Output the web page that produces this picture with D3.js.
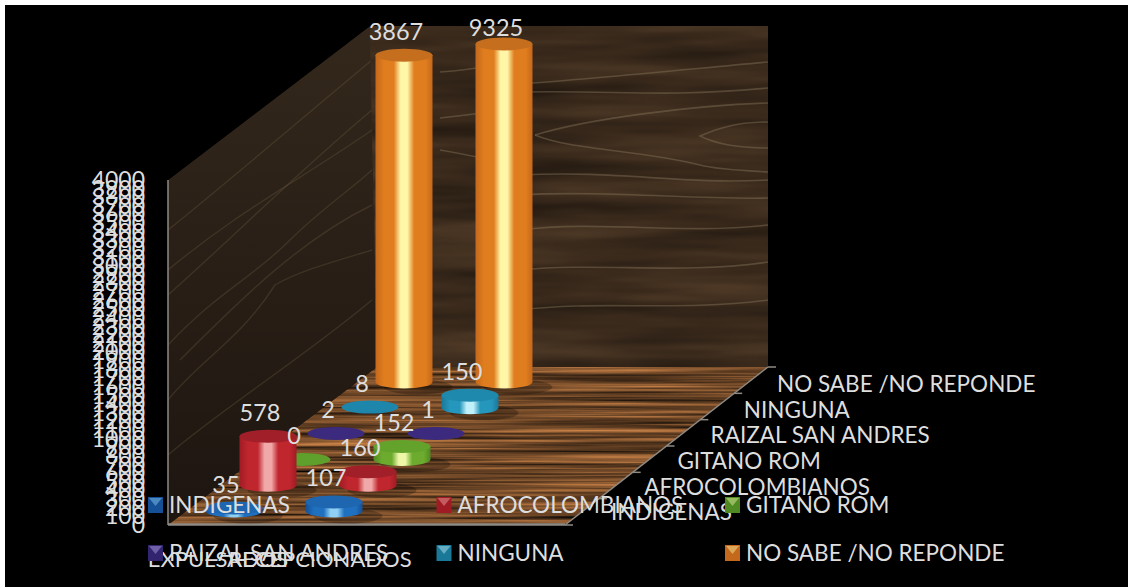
<!DOCTYPE html>
<html>
<head>
<meta charset="utf-8">
<script src="https://cdn.jsdelivr.net/npm/d3@7"></script>
<style>
html,body{margin:0;padding:0;background:#fff;}
svg{display:block;}
text{font-family:Lato,"Open Sans",sans-serif;fill:#dedede;}
</style>
</head>
<body>
<svg id="c" width="1128" height="587"></svg>
<script>
const categories = ["EXPULSADOS", "RECEPCIONADOS"];
const seriesNames = ["INDIGENAS", "AFROCOLOMBIANOS", "GITANO ROM", "RAIZAL SAN ANDRES", "NINGUNA", "NO SABE /NO REPONDE"];
const indigenas = [35, 107];
const afro = [578, 160];
const gitano = [0, 152];
const raizal = [2, 1];
const ninguna = [8, 150];
const noSabe = [3867, 9325];
const seriesValues = [indigenas, afro, gitano, raizal, ninguna, noSabe];
const yTicks = d3.range(0, 4001, 100);
const seriesColors = [
  {top:"#1f66b0", edge:"#155096", mid:"#2070c0", hi:"#8fd0f4", flat:"#2468b0"},
  {top:"#a01f28", edge:"#a01c24", mid:"#c0262e", hi:"#f0a8a8", flat:"#a01f28"},
  {top:"#63a32c", edge:"#4f8a22", mid:"#6cab2e", hi:"#eef6a8", flat:"#5f9f2c"},
  {top:"#3b2a82", edge:"#33246f", mid:"#4a3592", hi:"#b8a8e8", flat:"#3b2a7e"},
  {top:"#1f88ad", edge:"#1a7898", mid:"#2596bc", hi:"#c0f0fa", flat:"#1e86aa"},
  {top:"#c56f1e", edge:"#c4681c", mid:"#e07d1e", hi:"#fff6a8", flat:"#c56f1e"}
];

const svg = d3.select("#c");
const defs = svg.append("defs");
svg.append("rect").attr("x",5).attr("y",5).attr("width",1123).attr("height",582).attr("fill","#000");

// wood textures
function wood(id, fx, fy, seed, rm, gm, bm, slope, icpt){
  const f = defs.append("filter").attr("id",id).attr("x",0).attr("y",0).attr("width","100%").attr("height","100%")
    .attr("color-interpolation-filters","sRGB");
  f.append("feTurbulence").attr("type","fractalNoise").attr("baseFrequency",fx+" "+fy).attr("numOctaves",3).attr("seed",seed);
  f.append("feColorMatrix").attr("values",`1 0 0 0 0 1 0 0 0 0 1 0 0 0 0 0 0 0 0 1`);
  const ct = f.append("feComponentTransfer");
  ct.append("feFuncR").attr("type","linear").attr("slope",slope*rm).attr("intercept",icpt*rm);
  ct.append("feFuncG").attr("type","linear").attr("slope",slope*gm).attr("intercept",icpt*gm);
  ct.append("feFuncB").attr("type","linear").attr("slope",slope*bm).attr("intercept",icpt*bm);
}
wood("woodFloor",0.004,0.3,7,0.62,0.40,0.22,1.6,-0.1);
wood("woodBack",0.005,0.05,11,0.33,0.24,0.16,0.65,0.37);

const backPts="370,26 768,26 768,367 370,367";
const floorPts="168,525 377,367 768,367 565,525";
const leftPts="168,180 370,26 377,367 168,525";
defs.append("clipPath").attr("id","cpBack").append("polygon").attr("points",backPts);
defs.append("clipPath").attr("id","cpFloor").append("polygon").attr("points",floorPts);
defs.append("clipPath").attr("id","cpLeft").append("polygon").attr("points",leftPts);

const gl = defs.append("linearGradient").attr("id","leftFill").attr("x1",0).attr("x2",0).attr("y1",0).attr("y2",1);
gl.append("stop").attr("offset",0).attr("stop-color","#34281c");
gl.append("stop").attr("offset",1).attr("stop-color","#1d1510");

// back wall
const back = svg.append("g").attr("clip-path","url(#cpBack)");
back.append("rect").attr("x",370).attr("y",26).attr("width",398).attr("height",341).attr("filter","url(#woodBack)");
const grainBack = [
 "M520,84 C600,78 680,70 768,62","M520,92 C620,90 660,98 768,88","M535,135 C590,118 700,105 768,103",
 "M768,122 C730,122 710,132 700,136 C720,146 750,148 768,148",
 "M535,135 C570,150 640,150 700,165 C720,170 740,170 768,172","M520,175 C620,170 680,185 768,180",
 "M520,195 C600,190 700,200 768,198","M520,230 C600,220 680,235 768,225","M520,270 C600,262 680,275 768,262",
 "M520,310 C600,300 680,312 768,300","M440,72 C470,70 490,66 515,62","M440,118 C470,115 490,112 515,108","M440,150 C470,155 490,160 515,165"
];
back.selectAll("path.g").data(grainBack).join("path").attr("class","g").attr("d",d=>d)
  .attr("fill","none").attr("stroke","#8a7a5c").attr("stroke-opacity",0.42).attr("stroke-width",1.6);

// left wall
const left = svg.append("g").attr("clip-path","url(#cpLeft)");
left.append("polygon").attr("points",leftPts).attr("fill","url(#leftFill)");
const grainLeft = [
 "M168,295 C230,240 300,170 372,110","M168,230 C230,180 300,120 372,60","M168,345 C220,290 250,280 290,240 C320,210 350,190 372,170",
 "M168,400 C200,360 240,340 275,285 C300,270 340,260 372,250","M168,455 C220,410 300,360 372,300","M168,270 C240,210 300,180 372,130","M180,360 C240,300 300,240 372,205"
];
left.selectAll("path.g").data(grainLeft).join("path").attr("class","g").attr("d",d=>d)
  .attr("fill","none").attr("stroke","#6e5c42").attr("stroke-opacity",0.32).attr("stroke-width",1.4);

// floor
const floor = svg.append("g").attr("clip-path","url(#cpFloor)");
floor.append("rect").attr("x",168).attr("y",367).attr("width",600).attr("height",158).attr("filter","url(#woodFloor)");

// scales
const yAxisScale = d3.scaleLinear().domain([0,4000]).range([525,180]);
const barHeight = d3.scaleLinear().domain([0,4000]).range([0,338]).clamp(true);
const depthX = d3.scalePoint().domain(seriesNames).range([234,404]);
const depthY = d3.scalePoint().domain(seriesNames).range([511,382]);
const catOffset = d3.scalePoint().domain(categories).range([0,100]);
const catLabelX = d3.scalePoint().domain(categories).range([218,320]);
const depthLabelX = d3.scalePoint().domain(seriesNames).range([611,777]);
const depthLabelY = d3.scalePoint().domain(seriesNames).range([512,384]);
const edgeX = d3.scaleLinear().domain([0,6]).range([565,768]);
const edgeY = d3.scaleLinear().domain([0,6]).range([525,367]);

// axis lines
const lines = svg.append("g").attr("stroke","#8f8a84").attr("fill","none");
lines.append("line").attr("x1",168).attr("x2",168).attr("y1",180).attr("y2",525).attr("stroke-width",1.5);
lines.append("line").attr("x1",168).attr("x2",565).attr("y1",524.5).attr("y2",524.5).attr("stroke-width",2.5);
lines.append("line").attr("x1",565).attr("x2",768).attr("y1",525).attr("y2",367).attr("stroke-width",1.5);
lines.selectAll("line.t").data(d3.range(0,7)).join(enter=>enter.append("line").attr("class","t"))
  .attr("x1",d=>edgeX(d)).attr("x2",d=>edgeX(d)+8).attr("y1",d=>edgeY(d)).attr("y2",d=>edgeY(d)).attr("stroke-width",1.5);

// cylinders
const rx = 28.5, ry = 6.5;
seriesNames.forEach((name,si)=>{
  const c = seriesColors[si];
  const g = defs.append("linearGradient").attr("id","cyl"+si);
  [[0,c.edge],[0.15,c.mid],[0.32,c.mid],[0.44,c.hi],[0.56,c.hi],[0.68,c.mid],[0.88,c.mid],[1,c.edge]].forEach(s=>{
    g.append("stop").attr("offset",s[0]).attr("stop-color",s[1]);
  });
});
const items = [];
seriesNames.forEach((name,si)=>{
  categories.forEach((cat,ci)=>{
    const v = seriesValues[si][ci];
    items.push({name,si,cat,ci,v,cx:depthX(name)+catOffset(cat),by:depthY(name),h:barHeight(v)});
  });
});
items.sort((a,b)=>b.si-a.si || a.ci-b.ci);
const shadow = svg.append("g");
shadow.selectAll("ellipse").data(items.filter(d=>d.h>1)).join("ellipse")
  .attr("cx",d=>d.cx+14).attr("cy",d=>d.by+5).attr("rx",rx+6).attr("ry",ry+1)
  .attr("fill","#000").attr("fill-opacity",0.25);
const marks = svg.append("g");
items.forEach(d=>{
  const g = marks.append("g");
  const top = d.by-d.h;
  if(d.h>1){
    g.append("path").attr("d",`M${d.cx-rx},${top} L${d.cx-rx},${d.by} A${rx},${ry} 0 0 0 ${d.cx+rx},${d.by} L${d.cx+rx},${top} Z`)
      .attr("fill",`url(#cyl${d.si})`);
  }
  g.append("ellipse").attr("cx",d.cx).attr("cy",top).attr("rx",rx).attr("ry",ry)
    .attr("fill",d.h>1?seriesColors[d.si].top:seriesColors[d.si].flat);
});

// y axis
const yAxis = d3.axisLeft(yAxisScale).tickValues(yTicks).tickSize(0).tickPadding(0).tickFormat(d3.format("d"));
const ax = svg.append("g").attr("transform","translate(145,0)").call(yAxis);
ax.select(".domain").remove();
ax.selectAll("text").style("font-family","Lato,'Open Sans',sans-serif").style("font-size","23px").attr("fill","#dedede");

// depth labels
svg.append("g").selectAll("text").data(seriesNames).join("text")
  .attr("x",d=>depthLabelX(d)).attr("y",d=>depthLabelY(d)).attr("dy","0.36em")
  .attr("font-size",22.5).text(d=>d);

// category labels
svg.append("g").selectAll("text").data(categories).join("text")
  .attr("x",d=>catLabelX(d)).attr("y",559).attr("dy","0.36em").attr("text-anchor","middle")
  .attr("font-size",22).text(d=>d);

// data labels
svg.append("g").selectAll("text").data(items).join("text")
  .attr("x",d=>d.cx-8).attr("y",d=>Math.max(d.by-d.h-24,28)).attr("dy","0.36em").attr("text-anchor","middle")
  .attr("font-size",23.5).text(d=>d.v);

// legend
const legendCols = d3.scalePoint().domain([0,1,2]).range([148,725]);
const legendRows = d3.scalePoint().domain([0,1]).range([505,553]);
const leg = svg.append("g").selectAll("g").data(seriesNames).join("g")
  .attr("transform",(d,i)=>`translate(${legendCols(i%3)},${legendRows(Math.floor(i/3))})`);
leg.append("rect").attr("x",0).attr("y",-8).attr("width",15).attr("height",16).attr("fill",(d,i)=>seriesColors[i].edge);
leg.append("path").attr("d","M1,-7 L14,-7 L7.5,1 Z").attr("fill",(d,i)=>seriesColors[i].hi).attr("fill-opacity",0.45);
leg.append("text").attr("x",21).attr("y",0).attr("dy","0.36em").attr("font-size",22.5).text(d=>d);
</script>
</body>
</html>
